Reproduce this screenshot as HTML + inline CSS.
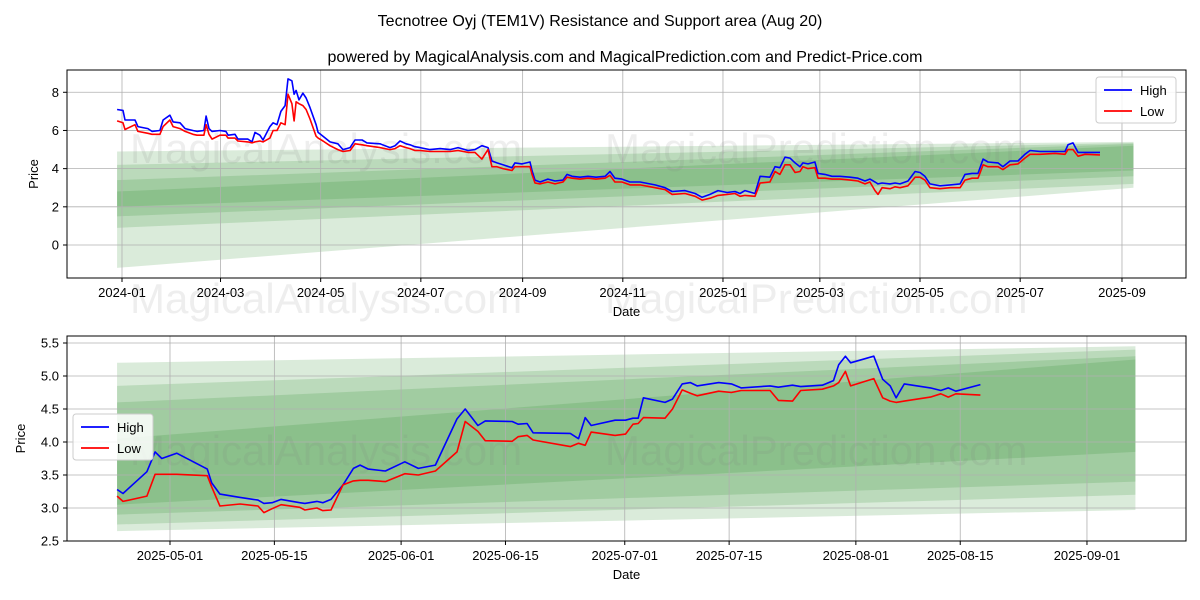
<!DOCTYPE html>
<html><head><meta charset="utf-8"><style>
body{margin:0;background:#fff;}
svg{display:block;font-family:"Liberation Sans","DejaVu Sans",sans-serif;}
</style></head><body>
<svg id="fig" width="1200" height="600" viewBox="0 0 1200 600">
<text x="600" y="26" text-anchor="middle" font-size="16">Tecnotree Oyj (TEM1V) Resistance and Support area (Aug 20)</text>
<text x="625" y="62" text-anchor="middle" font-size="16">powered by MagicalAnalysis.com and MagicalPrediction.com and Predict-Price.com</text>
</svg>
<script>
// ---------- TOP CHART DATA (days since 2024-01-01) ----------
const topDays = [-3.0,0.6,1.8,7.9,9.7,15.8,18.3,23.1,25.0,29.2,31.1,35.3,38.4,43.2,45.7,49.9,51.2,53.0,54.8,59.7,63.3,64.6,68.8,70.6,76.7,79.2,81.0,84.0,85.9,90.1,92.0,94.4,96.8,99.3,101.1,103.5,104.8,106.0,107.8,110.2,112.1,114.5,118.2,119.4,122.4,126.7,131.5,134.6,138.9,141.9,146.2,149.2,157.1,163.2,166.3,169.3,173.0,175.4,178.4,181.5,187.6,193.7,199.8,204.6,210.7,215.0,219.2,222.9,225.3,228.4,232.0,237.5,239.3,243.6,248.5,249.7,251.5,254.6,259.4,263.7,268.6,271.0,274.1,278.9,283.8,288.7,294.2,297.2,300.2,304.5,309.4,315.5,324.6,330.7,335.0,342.9,349.0,353.3,358.1,363.0,368.5,373.3,376.4,379.4,385.5,388.6,394.6,397.7,400.7,403.8,406.8,409.9,412.9,414.7,417.8,422.0,423.9,428.1,432.4,437.3,443.4,448.2,452.5,455.5,458.6,460.4,462.9,467.7,470.8,473.8,478.7,483.0,486.0,489.0,492.1,498.2,504.3,510.4,513.4,517.7,521.3,524.4,527.4,533.5,536.5,540.8,545.7,549.9,553.0,559.1,568.2,574.3,576.1,579.2,582.2,586.5,595.6];
const topHigh = [7.1,7.05,6.55,6.55,6.2,6.1,5.95,6.0,6.55,6.8,6.45,6.4,6.1,6.0,5.95,6.0,6.75,6.1,5.95,6.0,5.95,5.75,5.8,5.55,5.55,5.4,5.9,5.75,5.5,6.2,6.4,6.3,7.0,7.3,8.7,8.6,7.9,8.1,7.6,7.95,7.7,7.2,6.3,5.9,5.7,5.4,5.3,5.0,5.1,5.5,5.5,5.35,5.3,5.1,5.2,5.45,5.3,5.25,5.15,5.1,5.0,5.05,5.0,5.1,4.95,5.0,5.2,5.1,4.4,4.3,4.2,4.05,4.3,4.25,4.35,3.9,3.4,3.3,3.45,3.35,3.4,3.7,3.6,3.55,3.6,3.55,3.6,3.85,3.5,3.45,3.3,3.3,3.15,3.0,2.8,2.85,2.7,2.5,2.65,2.85,2.75,2.8,2.7,2.85,2.7,3.6,3.55,4.1,4.05,4.6,4.55,4.3,4.1,4.3,4.25,4.35,3.75,3.7,3.6,3.6,3.55,3.5,3.35,3.45,3.3,3.2,3.25,3.2,3.25,3.2,3.35,3.85,3.8,3.6,3.2,3.1,3.15,3.2,3.7,3.75,3.75,4.5,4.35,4.3,4.1,4.4,4.4,4.75,4.95,4.9,4.9,4.9,5.25,5.35,4.85,4.85,4.85];
const topLow = [6.5,6.4,6.05,6.3,5.95,5.85,5.8,5.8,6.2,6.55,6.2,6.1,5.95,5.8,5.75,5.75,6.3,5.8,5.55,5.75,5.75,5.6,5.6,5.45,5.4,5.35,5.4,5.45,5.4,5.6,6.0,6.0,6.4,6.3,7.9,7.4,6.5,7.5,7.4,7.3,7.1,6.6,5.7,5.6,5.45,5.2,5.0,4.9,4.95,5.3,5.25,5.2,5.1,5.0,5.05,5.2,5.1,5.05,4.95,4.95,4.9,4.9,4.9,4.95,4.85,4.85,4.5,5.0,4.1,4.1,4.0,3.9,4.1,4.1,4.1,3.7,3.25,3.2,3.3,3.2,3.3,3.55,3.5,3.45,3.5,3.45,3.5,3.65,3.3,3.3,3.15,3.15,3.0,2.9,2.65,2.7,2.55,2.35,2.45,2.6,2.65,2.7,2.55,2.6,2.55,3.25,3.3,3.85,3.7,4.2,4.2,3.8,3.85,4.1,4.0,4.05,3.5,3.5,3.45,3.45,3.4,3.35,3.2,3.3,2.85,2.65,3.0,2.95,3.05,3.0,3.1,3.55,3.55,3.4,3.0,2.95,3.0,3.0,3.4,3.5,3.5,4.2,4.1,4.1,3.95,4.2,4.25,4.55,4.75,4.75,4.8,4.75,5.0,5.0,4.65,4.75,4.72];
const topBandStartLow = [-1.2,0.9,1.5,2.0];
const topBandStartHigh = [4.9,4.2,3.4,2.8];
const topBandEndLow = [3.0,3.2,3.6,3.9];
const topBandEndHigh = [5.4,5.35,5.3,5.2];
const topYTicks = [0,2,4,6,8];
const topXTickDays = [0,60,121,182,244,305,366,425,486,547,609];
const topXTickLabels = ["2024-01","2024-03","2024-05","2024-07","2024-09","2024-11","2025-01","2025-03","2025-05","2025-07","2025-09"];

// ---------- BOTTOM CHART DATA (days since 2025-05-01) ----------
const botDays = [-7.1,-6.3,-3.1,-2.0,-1.1,0.9,5.0,5.6,6.7,9.4,11.8,12.6,13.7,14.9,17.4,18.1,19.7,20.5,21.6,23.2,24.6,25.5,26.6,28.9,31.5,33.3,35.6,38.5,39.6,41.3,42.3,45.9,46.7,47.9,48.7,53.7,54.8,55.7,56.5,59.7,61.1,62.1,62.8,63.5,66.4,67.4,68.7,69.8,70.7,73.6,75.3,76.6,80.5,81.6,83.5,84.6,87.5,89.0,89.7,90.6,91.3,94.4,95.6,96.6,97.4,98.5,102.0,103.4,104.4,105.4,108.7];
const botHigh = [3.28,3.22,3.55,3.85,3.75,3.83,3.59,3.38,3.21,3.16,3.12,3.07,3.08,3.13,3.08,3.07,3.10,3.08,3.13,3.35,3.60,3.65,3.59,3.56,3.70,3.60,3.65,4.35,4.50,4.25,4.32,4.31,4.27,4.28,4.14,4.13,4.05,4.37,4.25,4.33,4.33,4.36,4.36,4.67,4.60,4.65,4.88,4.90,4.85,4.90,4.88,4.82,4.85,4.83,4.86,4.84,4.86,4.93,5.17,5.30,5.20,5.30,4.95,4.85,4.67,4.88,4.82,4.78,4.82,4.77,4.87];
const botLow = [3.18,3.10,3.18,3.51,3.51,3.51,3.49,3.32,3.03,3.06,3.03,2.93,2.99,3.05,3.01,2.97,3.00,2.96,2.97,3.35,3.41,3.42,3.42,3.40,3.52,3.50,3.56,3.85,4.31,4.16,4.02,4.01,4.08,4.10,4.03,3.93,3.98,3.95,4.15,4.10,4.12,4.27,4.28,4.37,4.36,4.50,4.79,4.74,4.70,4.77,4.75,4.78,4.78,4.63,4.62,4.78,4.80,4.85,4.90,5.07,4.85,4.96,4.67,4.62,4.60,4.62,4.68,4.73,4.68,4.73,4.71];
const botBandStartLow = [2.65,2.75,2.9,3.05];
const botBandStartHigh = [5.2,4.85,4.6,4.05];
const botBandEndLow = [2.97,3.2,3.4,3.85];
const botBandEndHigh = [5.45,5.4,5.3,5.25];
const botYTicks = [2.5,3.0,3.5,4.0,4.5,5.0,5.5];
const botXTickDays = [0,14,31,45,61,75,92,106,123];
const botXTickLabels = ["2025-05-01","2025-05-15","2025-06-01","2025-06-15","2025-07-01","2025-07-15","2025-08-01","2025-08-15","2025-09-01"];

const NS = "http://www.w3.org/2000/svg";
const fig = document.getElementById('fig');
function mk(tag, attrs, parent){const e=document.createElementNS(NS,tag);for(const k in attrs)e.setAttribute(k,attrs[k]);(parent||fig).appendChild(e);return e;}

function drawChart(cfg){
  const g = mk('g',{});
  
  
  const X = d => cfg.x0 + (d - cfg.d0) * cfg.pxDay;
  const Y = v => cfg.y0 - (v - cfg.v0) * cfg.pxVal;
  for (let i=0;i<cfg.bsl.length;i++){
    const xa = X(cfg.bandStart), xb = X(cfg.bandEnd);
    const p = mk('polygon',{points:`${xa},${Y(cfg.bsh[i])} ${xb},${Y(cfg.beh[i])} ${xb},${Y(cfg.bel[i])} ${xa},${Y(cfg.bsl[i])}`,fill:'rgba(34,139,34,0.17)'},g);
    
    
  }
  cfg.yt.forEach(v=>{mk('line',{x1:cfg.L,x2:cfg.R,y1:Y(v),y2:Y(v),stroke:'#b0b0b0','stroke-width':0.8},g);
    const t=mk('text',{x:cfg.L-8,y:Y(v)+4.5,'text-anchor':'end','font-size':13},g);t.textContent=cfg.ytl?cfg.ytl(v):v;
    
    
    mk('line',{x1:cfg.L-4,x2:cfg.L,y1:Y(v),y2:Y(v),stroke:'#000'},g);});
  cfg.xt.forEach((d,i)=>{mk('line',{x1:X(d),x2:X(d),y1:cfg.T,y2:cfg.B,stroke:'#b0b0b0','stroke-width':0.8},g);
    mk('line',{x1:X(d),x2:X(d),y1:cfg.B,y2:cfg.B+4,stroke:'#000'},g);
    const t=mk('text',{x:X(d),y:cfg.B+19,'text-anchor':'middle','font-size':13},g);t.textContent=cfg.xtl[i];
    
    });
  cfg.wm.forEach(w=>{const t=mk('text',{x:w[0],y:w[1],'font-size':42,fill:'rgba(120,120,120,0.13)'},g);t.textContent=w[2];
    
    });
  const series=[[cfg.hi,'#0000ff','high-line'],[cfg.lo,'#ff0000','low-line']];
  series.forEach(s=>{const n=Math.min(cfg.days.length,s[0].length);
    const pts=cfg.days.slice(0,n).map((d,i)=>X(d).toFixed(1)+','+Y(s[0][i]).toFixed(1)).join(' ');
    const pl=mk('polyline',{points:pts,fill:'none',stroke:s[1],'stroke-width':1.6,'stroke-linejoin':'round'},g);
    
    });
  mk('rect',{x:cfg.L,y:cfg.T,width:cfg.R-cfg.L,height:cfg.B-cfg.T,fill:'none',stroke:'#000','stroke-width':1},g);
  const xl=mk('text',{x:(cfg.L+cfg.R)/2,y:cfg.B+38,'text-anchor':'middle','font-size':13},g);xl.textContent='Date';
  
  
  const yl=mk('text',{x:0,y:0,'text-anchor':'middle','font-size':13,transform:`translate(${cfg.ylx},${(cfg.T+cfg.B)/2}) rotate(-90)`},g);yl.textContent='Price';
  
  
  const lg=mk('g',{},g);
  
  
  mk('rect',{x:cfg.lx,y:cfg.ly,width:80,height:46,rx:3,fill:'rgba(255,255,255,0.85)',stroke:'#ccc'},lg);
  [['High','#0000ff'],['Low','#ff0000']].forEach((e,i)=>{const yy=cfg.ly+13+i*21;
    mk('line',{x1:cfg.lx+8,x2:cfg.lx+36,y1:yy,y2:yy,stroke:e[1],'stroke-width':1.8},lg);
    const t=mk('text',{x:cfg.lx+44,y:yy+5,'font-size':13},lg);t.textContent=e[0];
    
    });
}

drawChart({name:'top-chart',L:67,R:1186,T:70,B:278,x0:122,d0:0,pxDay:1.642,y0:245,v0:0,pxVal:19.09,
  bandStart:-3,bandEnd:616,bsl:topBandStartLow,bsh:topBandStartHigh,bel:topBandEndLow,beh:topBandEndHigh,
  yt:topYTicks,xt:topXTickDays,xtl:topXTickLabels,days:topDays,hi:topHigh,lo:topLow,ylx:38,lx:1096,ly:77,
  wm:[[130,163,'MagicalAnalysis.com'],[605,163,'MagicalPrediction.com'],[130,313,'MagicalAnalysis.com'],[605,313,'MagicalPrediction.com']]});
drawChart({name:'bottom-chart',L:67,R:1186,T:336,B:541,x0:170,d0:0,pxDay:7.455,y0:541,v0:2.5,pxVal:66,
  bandStart:-7.1,bandEnd:129.5,bsl:botBandStartLow,bsh:botBandStartHigh,bel:botBandEndLow,beh:botBandEndHigh,
  yt:botYTicks,ytl:v=>v.toFixed(1),xt:botXTickDays,xtl:botXTickLabels,days:botDays,hi:botHigh,lo:botLow,ylx:25,lx:73,ly:414,
  wm:[[130,465,'MagicalAnalysis.com'],[605,465,'MagicalPrediction.com']]});
</script>
</body></html>
